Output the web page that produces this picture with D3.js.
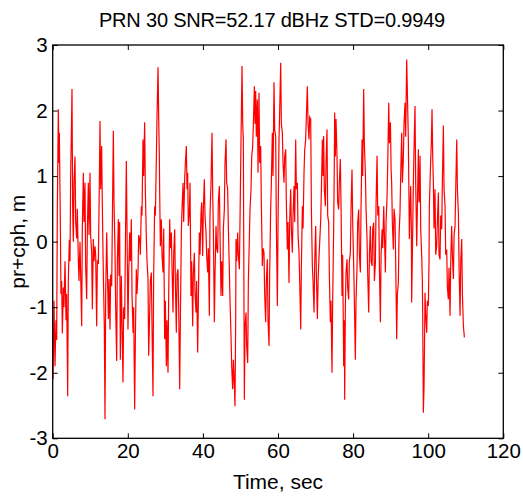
<!DOCTYPE html>
<html><head><meta charset="utf-8">
<script src="https://cdn.jsdelivr.net/npm/d3@7"></script>
<style>
html,body{margin:0;padding:0;background:#fff;}
svg text{font-family:"Liberation Sans",Arial,sans-serif;fill:#000;}
</style></head>
<body><svg id="chart" width="523" height="498"></svg>
<script>
const titleText = "PRN 30 SNR=52.17 dBHz STD=0.9949";
const xLabel = "Time, sec";
const yLabel = "pr+cph, m";
const xTicks = [0,20,40,60,80,100,120];
const yTicks = [-3,-2,-1,0,1,2,3];

const timeSec = [
0.0,0.09,0.35,0.61,0.88,1.06,1.23,1.5,1.68,1.77,2.03,2.2,2.39,2.57,2.83,3.0,3.28,3.54,3.72,3.99,4.16,4.43,4.61,4.79,4.96,5.14,5.32,5.5,5.67,5.94,6.12,6.38,6.56,6.83,7.0,7.27,7.45,7.72,7.89,8.16,8.34,8.6,8.78,9.05,9.23,9.49,9.67,9.94,10.11,10.38,10.56,10.82,11.0,11.27,11.45,11.71,11.89,12.16,12.42,12.6,12.78,13.04,13.22,13.49,13.75,13.93,14.11,14.38,14.55,14.82,15.0,15.26,15.44,15.71,15.89,16.15,16.33,16.6,16.77,17.04,17.22,17.48,17.66,
17.83,18.01,18.28,18.45,18.72,18.9,19.17,19.43,19.61,19.79,20.05,20.23,20.5,20.68,20.94,21.12,21.39,21.56,21.83,22.01,22.27,22.45,22.72,22.9,23.16,23.34,23.61,23.78,24.05,24.23,24.49,24.67,24.94,25.12,25.38,25.56,25.83,26.0,26.27,26.45,26.71,26.89,27.16,27.34,27.6,27.78,28.05,28.22,28.4,28.49,28.67,28.93,29.11,29.38,29.56,29.82,30.0,30.27,30.44,30.71,30.89,31.16,31.33,31.6,31.78,32.04,32.22,32.49,32.66,32.93,33.11,33.37,33.55,33.82,34.0,34.26,34.44,34.71,34.88,35.15,35.33,35.59,35.77,
35.94,36.12,36.39,36.57,36.83,37.01,37.28,37.45,37.72,37.9,38.16,38.34,38.61,38.79,39.05,39.23,39.5,39.67,39.94,40.12,40.38,40.56,40.83,41.0,41.27,41.45,41.72,41.89,42.16,42.43,42.6,42.78,43.05,43.23,43.49,43.67,43.94,44.11,44.38,44.56,44.82,45.0,45.27,45.45,45.71,45.89,46.16,46.33,46.6,46.78,47.04,47.22,47.49,47.67,47.93,48.11,48.38,48.55,48.73,48.82,49.0,49.26,49.44,49.71,49.88,50.15,50.42,50.6,50.77,50.86,51.04,51.22,51.48,51.66,51.93,52.11,52.37,52.55,52.82,53.0,53.26,53.44,53.71,53.88,
54.05,54.23,54.5,54.68,54.94,55.12,55.39,55.56,55.83,56.01,56.27,56.45,56.72,56.9,57.16,57.34,57.61,57.78,58.05,58.23,58.49,58.67,58.94,59.12,59.38,59.56,59.83,60.0,60.27,60.45,60.72,60.89,61.16,61.34,61.6,61.78,62.05,62.22,62.49,62.67,62.93,63.11,63.38,63.56,63.82,64.0,64.27,64.45,64.71,64.89,65.16,65.34,65.6,65.78,66.05,66.22,66.49,66.67,66.93,67.11,67.37,67.55,67.82,68.0,68.26,68.44,68.71,68.89,69.15,69.33,69.6,69.78,70.04,70.22,70.49,70.67,70.93,71.11,71.38,71.56,71.82,72.0,
72.16,72.34,72.61,72.79,73.05,73.23,73.5,73.67,73.94,74.12,74.38,74.56,74.83,75.0,75.09,75.27,75.45,75.71,75.89,76.16,76.33,76.6,76.78,77.05,77.22,77.49,77.67,77.76,77.94,78.11,78.38,78.56,78.82,79.0,79.27,79.45,79.71,79.89,80.16,80.34,80.6,80.78,81.05,81.23,81.49,81.67,81.94,82.11,82.38,82.56,82.82,83.0,83.27,83.45,83.71,83.89,84.16,84.34,84.6,84.78,85.05,85.23,85.49,85.67,85.94,86.12,86.38,86.56,86.83,87.01,87.27,87.45,87.72,87.89,88.16,88.34,88.6,88.78,89.05,89.23,89.49,89.67,89.94,90.12,
90.27,90.45,90.72,90.9,91.16,91.34,91.61,91.79,92.05,92.23,92.49,92.67,92.94,93.12,93.38,93.56,93.83,94.0,94.27,94.45,94.71,94.89,94.98,95.16,95.34,95.51,95.6,95.78,96.05,96.22,96.49,96.67,96.94,97.11,97.38,97.56,97.65,97.83,98.0,98.27,98.44,98.53,98.71,98.89,99.07,99.15,99.33,99.6,99.78,100.04,100.22,100.31,100.49,100.67,100.84,101.02,101.2,101.38,101.55,101.82,102.0,102.26,102.44,102.71,102.88,103.15,103.33,103.6,103.77,104.04,104.22,104.49,104.66,104.93,105.11,105.37,105.55,105.82,106.0,106.26,106.44,106.71,106.89,107.15,107.33,107.6,107.78,108.04,108.22,108.49,108.67,108.93,109.11,109.38,109.64
];
const prCph = [
-1.6,-2.1,-0.9,-1.9,-1.2,-1.5,0.5,2.02,1.2,1.66,0.3,-0.8,-0.6,-1.4,-0.7,-1.0,-0.3,-1.2,-0.8,-2.36,-0.6,0.03,-0.3,1.06,1.6,2.33,0.5,0.0,0.9,1.3,0.3,0.05,0.5,-0.3,-0.6,0.0,-0.5,-1.29,0.2,1.05,0.3,0.9,-0.37,-0.88,0.2,0.9,0.1,1.05,0.09,-0.17,-1.03,0.04,-0.3,-0.07,-0.22,-1.29,-0.3,-0.32,0.9,1.84,0.8,1.46,0.54,-0.52,-1.3,-2.71,-0.8,0.14,-0.4,-1.18,-0.57,-1.34,-0.5,-0.68,0.3,1.69,0.6,-0.17,-1.0,-1.82,-0.3,0.34,-0.52,
0.3,-1.8,-0.52,-1.2,-2.15,-1.0,-1.18,0.3,1.23,0.2,-1.34,-0.5,0.14,-0.3,0.34,-0.78,-1.39,-1.0,-2.56,-1.5,-0.42,-0.8,-0.47,0.1,0.04,-0.2,0.54,0.4,1.56,1.0,1.82,0.8,0.04,-0.3,-0.57,-1.74,-1.08,-0.6,-0.47,-1.3,-2.36,-0.5,0.54,0.4,1.26,1.9,2.66,1.92,1.3,0.75,-0.07,0.34,-0.2,-0.47,0.2,-1.49,-0.9,-1.9,-1.2,-2.0,-0.8,0.34,-0.1,0.14,-0.4,-1.08,-0.2,0.19,-0.6,-1.39,-0.5,-0.42,-1.0,-2.25,-1.2,0.14,0.5,0.9,0.3,0.95,1.2,1.46,0.8,
1.05,0.24,0.44,0.9,-0.83,-0.3,-1.29,-0.5,-0.17,-0.78,-1.08,-0.6,-1.69,-0.9,0.14,-0.2,0.44,0.6,-0.22,0.5,0.95,0.4,0.14,-0.2,-0.47,-0.1,-1.13,0.4,0.9,1.66,0.75,0.2,-1.23,-0.5,0.24,-0.1,-0.17,0.6,0.85,0.1,-0.83,-0.3,-0.83,0.2,0.49,1.2,1.56,0.9,0.8,0.2,-0.42,-0.9,-1.44,-1.9,-2.25,-1.8,-2.2,-2.51,-1.2,0.04,-0.3,0.14,-0.2,-0.42,0.3,1.56,2.68,1.8,1.56,0.2,-2.41,-1.3,-1.08,-1.6,-1.85,-0.6,0.04,0.5,0.8,1.3,1.46,1.8,2.37,1.8,
2.3,1.6,2.17,1.05,2.27,1.2,1.46,0.6,-0.37,-0.1,-0.17,-0.8,-1.23,-0.6,-0.27,-1.2,-1.59,-0.5,0.49,0.9,1.66,1.0,2.43,1.7,1.61,0.3,-0.98,0.2,1.56,2.0,2.73,1.8,1.66,1.2,0.9,1.3,1.41,0.6,-0.12,0.3,-0.63,0.3,0.8,0.2,-0.17,0.4,0.85,0.3,1.56,0.8,0.9,0.1,-0.17,-0.6,-1.34,-0.4,0.54,0.2,1.05,1.4,1.56,1.9,2.37,1.8,1.56,1.9,1.87,0.5,-0.37,-0.6,-1.08,-0.3,0.24,-0.5,-1.18,-0.6,-0.22,0.0,0.34,0.8,1.56,1.0,
1.61,0.8,0.54,1.2,1.71,0.4,0.29,-0.47,-1.23,-0.9,-2.0,-0.9,0.24,1.2,1.97,1.3,1.87,1.31,0.6,0.49,0.9,1.26,0.6,-0.83,-0.2,-1.9,-1.2,-2.41,-1.0,-0.47,-0.27,-0.7,-0.88,-0.3,-0.17,0.5,1.1,0.3,-0.37,-0.9,-1.8,-0.9,-0.37,0.3,0.49,-0.2,-0.47,0.5,1.56,1.0,2.33,1.5,1.05,0.5,0.04,-0.5,-1.08,-0.2,0.24,-0.3,-0.37,0.2,0.29,-0.6,-0.32,0.6,1.31,0.4,0.54,-0.4,-1.23,-0.2,0.19,-0.1,0.54,0.1,-0.47,0.3,0.7,1.2,2.12,1.5,1.82,1.1,
0.9,0.3,-0.12,0.5,0.34,-0.3,-1.49,-0.8,-0.63,0.1,0.44,1.0,1.66,0.9,1.26,1.8,2.12,1.6,2.78,2.3,1.56,0.6,0.04,0.5,0.85,0.2,-0.93,-0.2,0.9,1.4,2.07,0.9,-0.07,0.5,1.41,0.6,0.65,1.31,0.2,-0.22,-0.6,-1.08,-2.61,-2.2,-1.3,-0.78,-1.1,-1.39,-0.9,-0.98,-0.3,0.54,0.9,1.26,1.5,2.02,1.3,0.9,0.2,0.8,-0.2,-0.07,0.3,0.75,-0.2,-0.27,0.4,0.19,0.9,1.77,0.8,0.54,-0.2,-0.12,-0.7,-0.88,-0.4,-1.13,-0.3,0.24,-0.2,-0.57,0.1,0.24,0.8,1.56,0.8,0.44,-0.4,-1.13,-0.3,0.04,-0.8,-1.29,-1.46
];

const W = 523, H = 498;
const L = 52.7, R = 503.3, T = 45, B = 438.3;
const svg = d3.select("#chart");
const x = d3.scaleLinear().domain([0,120]).range([L,R]);
const y = d3.scaleLinear().domain([-3,3]).range([B,T]);
const fs = 20.5;
const fmt = v => String(v); // plain hyphen-minus, integers

// data line
const data = timeSec.map((t,i)=>({t, v: prCph[i]}));
svg.append("path").datum(data)
  .attr("fill","none").attr("stroke","#ff0000").attr("stroke-width",1.2)
  .attr("stroke-linejoin","miter")
  .attr("d", d3.line().x(d=>x(d.t)).y(d=>y(d.v)));

// axes (MATLAB style inward ticks, box on)
const tk = 5;
const gB = svg.append("g").attr("transform",`translate(0,${B})`)
  .call(d3.axisBottom(x).tickValues(xTicks).tickFormat(fmt).tickSizeInner(-tk).tickSizeOuter(0).tickPadding(5));
const gT = svg.append("g").attr("transform",`translate(0,${T})`)
  .call(d3.axisTop(x).tickValues(xTicks).tickSizeInner(-tk).tickSizeOuter(0).tickFormat(""));
const gL = svg.append("g").attr("transform",`translate(${L},0)`)
  .call(d3.axisLeft(y).tickValues(yTicks).tickFormat(fmt).tickSizeInner(-tk).tickSizeOuter(0).tickPadding(5));
const gR = svg.append("g").attr("transform",`translate(${R},0)`)
  .call(d3.axisRight(y).tickValues(yTicks).tickSizeInner(-tk).tickSizeOuter(0).tickFormat(""));
[gB,gT,gL,gR].forEach(g=>{
  g.select(".domain").remove();
  g.selectAll("line").attr("stroke","#000").attr("stroke-width",1);
  g.selectAll("text").attr("font-size",fs).attr("font-family",null).attr("fill","#000");
});
svg.append("rect").attr("x",L).attr("y",T).attr("width",R-L).attr("height",B-T)
  .attr("fill","none").attr("stroke","#000").attr("stroke-width",1.3);

// title & labels
svg.append("text").attr("x",272).attr("y",26.5).attr("text-anchor","middle")
  .attr("font-size",20).attr("letter-spacing",-0.2).text(titleText);
svg.append("text").attr("x",(L+R)/2).attr("y",489).attr("text-anchor","middle")
  .attr("font-size",21).text(xLabel);
svg.append("text").attr("transform",`translate(25,${(T+B)/2}) rotate(-90)`).attr("text-anchor","middle")
  .attr("font-size",21).text(yLabel);
</script></body></html>
